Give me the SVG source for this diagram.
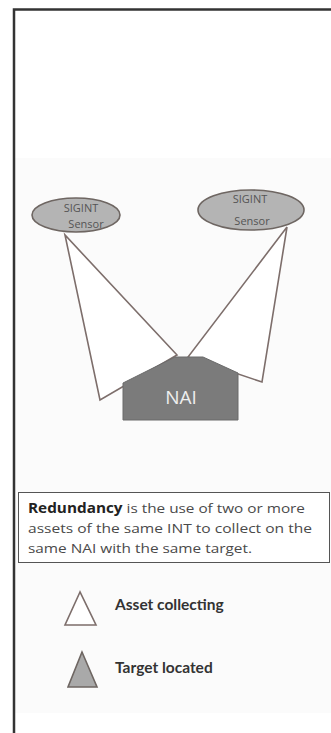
<svg xmlns="http://www.w3.org/2000/svg" width="331" height="733" viewBox="0 0 331 733">
<style>
.cone{fill:#fff;stroke:#7d6e6b;stroke-width:1.6}
.sensor{fill:#b4b4b4;stroke:#6e6662;stroke-width:1.6}
.stxt{font-family:"Open Sans","DejaVu Sans",sans-serif;font-size:11px;fill:#555;text-anchor:middle}
.body{font-family:"Open Sans","DejaVu Sans",sans-serif;font-size:13.5px;fill:#4a4a4a}
.leg{font-family:Lato,"Liberation Sans",sans-serif;font-size:15.5px;font-weight:bold;fill:#333}
</style>
<rect x="0" y="0" width="331" height="733" fill="#fff"/>
<rect x="15" y="158" width="316" height="555" fill="#fbfbfb"/>
<path d="M14 733 V9.5 H331" fill="none" stroke="#333" stroke-width="2.5"/>
<g id="connectors">
<polygon class="cone" points="65,235 100,400 177,355"/>
<polygon class="cone" points="287,227 188,357 262,382"/>
</g>
<g id="nai">
<polygon points="123,420 123,383 175,357 203,357 238,373 238,420" fill="#7b7b7b" stroke="#6a6a6a" stroke-width="1"/>
<text x="181" y="404" font-family="'Open Sans','DejaVu Sans',sans-serif" font-size="19" fill="#eee" text-anchor="middle">NAI</text>
</g>
<g id="sensor1">
<ellipse class="sensor" cx="76" cy="215" rx="44" ry="17"/>
<text class="stxt" x="81" y="212">SIGINT</text>
<text class="stxt" x="86" y="228">Sensor</text>
</g>
<g id="sensor2">
<ellipse class="sensor" cx="251" cy="210" rx="53" ry="20"/>
<text class="stxt" x="250" y="203">SIGINT</text>
<text class="stxt" x="252" y="225">Sensor</text>
</g>
<g id="note">
<rect x="18.5" y="492.5" width="311" height="70" fill="#fff" stroke="#555" stroke-width="1"/>
<text class="body" x="28" y="513" textLength="277" lengthAdjust="spacingAndGlyphs"><tspan font-weight="bold" fill="#222">Redundancy</tspan> is the use of two or more</text>
<text class="body" x="28" y="533" textLength="284" lengthAdjust="spacingAndGlyphs">assets of the same INT to collect on the</text>
<text class="body" x="28" y="553" textLength="224" lengthAdjust="spacingAndGlyphs">same NAI with the same target.</text>
</g>
<g id="legend1">
<polygon points="80,592 65,625 96,625" fill="#fff" stroke="#7d6e6b" stroke-width="1.6"/>
<text class="leg" x="115" y="610">Asset collecting</text>
</g>
<g id="legend2">
<polygon points="82,652 68,687 97,687" fill="#a9a9a9" stroke="#6e6662" stroke-width="1.6"/>
<text class="leg" x="115" y="673">Target located</text>
</g>
</svg>
